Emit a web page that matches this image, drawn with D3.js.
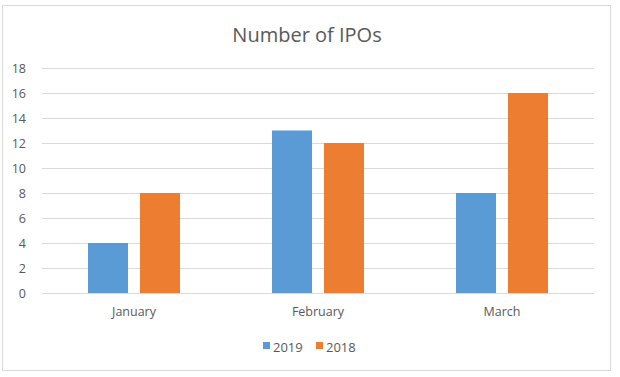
<!DOCTYPE html>
<html><head><meta charset="utf-8">
<script src="https://cdn.jsdelivr.net/npm/d3@7"></script>
<style>
html,body{margin:0;padding:0;background:#fff;}
svg{display:block;}
text{font-family:"Open Sans","Noto Sans",sans-serif;fill:#595959;}
</style></head>
<body>
<svg id="chart" width="620" height="377"></svg>
<script>
const categories = ["January", "February", "March"];
const seriesNames = ["2019", "2018"];
const values2019 = [4, 13, 8];
const values2018 = [8, 12, 16];
const yTicks = [0, 2, 4, 6, 8, 10, 12, 14, 16, 18];
const colors = ["#5B9BD5", "#ED7D31"];
const title = "Number of IPOs";

const svg = d3.select("#chart");
const plot = {left: 42, right: 594, top: 68, bottom: 293};

svg.append("rect").attr("x", 2.5).attr("y", 5.5).attr("width", 608).attr("height", 365)
  .attr("fill", "#fff").attr("stroke", "#d9d9d9").attr("stroke-width", 1);

svg.append("text").attr("x", 307).attr("y", 42).attr("text-anchor", "middle")
  .attr("font-size", 20).text(title);

const y = d3.scaleLinear().domain([0, 18]).range([plot.bottom, plot.top]);
const x0 = d3.scaleBand().domain(categories).range([plot.left, plot.right]).padding(0);
const x1 = d3.scaleBand().domain(seriesNames).range([46, 138]).paddingInner(0.231).paddingOuter(0);

// gridlines
svg.append("g").selectAll("line").data(yTicks.filter(d => d > 0)).join("line")
  .attr("x1", plot.left).attr("x2", plot.right)
  .attr("y1", d => Math.round(y(d)) + 0.5).attr("y2", d => Math.round(y(d)) + 0.5)
  .attr("stroke", "#d9d9d9").attr("stroke-width", 1);

// y axis labels
const yAxis = d3.axisLeft(y).tickValues(yTicks).tickSize(0).tickPadding(0);
const gy = svg.append("g").attr("transform", `translate(26,0)`).call(yAxis);
gy.select(".domain").remove();
gy.selectAll("text").attr("font-size", 12.5).attr("fill", "#595959")
  .style("font-family", '"Open Sans","Noto Sans",sans-serif');

// bars
const data = categories.map((c, i) => ({cat: c, vals: [values2019[i], values2018[i]]}));
const groups = svg.append("g").selectAll("g").data(data).join("g")
  .attr("transform", d => `translate(${x0(d.cat)},0)`);
groups.selectAll("rect").data(d => d.vals.map((v, j) => ({s: seriesNames[j], v, j}))).join("rect")
  .attr("x", d => x1(d.s)).attr("width", x1.bandwidth())
  .attr("y", d => y(d.v)).attr("height", d => y(0) - y(d.v))
  .attr("fill", d => colors[d.j]);

// x axis line
svg.append("line").attr("x1", plot.left).attr("x2", plot.right)
  .attr("y1", plot.bottom + 0.5).attr("y2", plot.bottom + 0.5)
  .attr("stroke", "#d9d9d9").attr("stroke-width", 1);

// x axis labels
const xAxis = d3.axisBottom(x0).tickSize(0).tickPadding(0);
const gx = svg.append("g").attr("transform", `translate(0,${plot.bottom + 14})`).call(xAxis);
gx.select(".domain").remove();
gx.selectAll("text").attr("font-size", 12.5).attr("fill", "#595959")
  .style("font-family", '"Open Sans","Noto Sans",sans-serif');

// legend
const legendX = [263, 316];
const lg = svg.append("g").selectAll("g").data(seriesNames).join("g")
  .attr("transform", (d, i) => `translate(${legendX[i]},342)`);
lg.append("rect").attr("width", 7).attr("height", 7).attr("fill", (d, i) => colors[i]);
lg.append("text").attr("x", 10).attr("y", 10).attr("font-size", 13).text(d => d);
</script>
</body></html>
